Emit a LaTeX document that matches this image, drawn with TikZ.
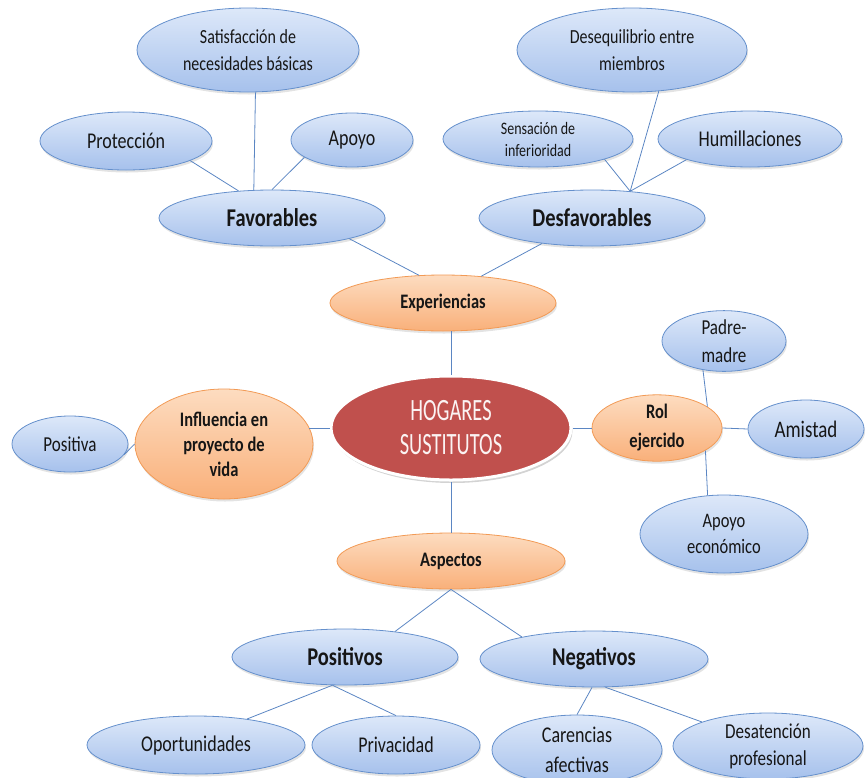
\documentclass[tikz,border=0pt]{standalone}
\usepackage{fontspec}
\setmainfont{Carlito}[FakeStretch=0.8]
\newfontfamily\hogfont{Carlito}[FakeStretch=0.66]
\usetikzlibrary{shapes.geometric,shadows}
\definecolor{bluetop}{HTML}{DDE8F9}
\definecolor{bluebot}{HTML}{A6C1EC}
\definecolor{blueline}{HTML}{6590CC}
\definecolor{orgtop}{HTML}{FDDCC0}
\definecolor{orgbot}{HTML}{F9B07A}
\definecolor{orgline}{HTML}{F29A55}
\definecolor{hogred}{HTML}{C0504D}
\definecolor{connc}{HTML}{5B86C3}
\definecolor{txt}{HTML}{161616}
\newcommand\sz[2]{\fontsize{#1}{#2}\selectfont}
\tikzset{
  esize/.style 2 args={minimum width={2*#1}, minimum height={2*#2}},
  base/.style={ellipse, inner sep=0pt, align=center, text=txt,
    drop shadow={opacity=0.22, shadow xshift=1pt, shadow yshift=-2.5pt}},
  bnode/.style={base, draw=blueline, line width=0.8pt, top color=bluetop, bottom color=bluebot},
  onode/.style={base, draw=orgline, line width=0.8pt, top color=orgtop, bottom color=orgbot},
  hnode/.style={ellipse, inner sep=0pt, align=center, text=white!93!hogred, draw=white,
    line width=3pt, fill=hogred,
    drop shadow={opacity=0.35, shadow xshift=1.5pt, shadow yshift=-3pt}},
  link/.style={draw=connc, line width=0.8pt},
}
\begin{document}
\begin{tikzpicture}[x=1pt,y=-1pt]
\useasboundingbox (0,0) rectangle (865,777);
\clip (0,0) rectangle (865,777);
% top-left branch
\node[bnode, esize={111}{42}, font=\sz{20}{27}] (sat) at (248,50) {Satisfacción de\\necesidades básicas};
\node[bnode, esize={86}{29}, font=\sz{22.5}{24}] (prot) at (126,141) {Protección};
\node[bnode, esize={61}{27}, font=\sz{22.5}{24}] (apy) at (352,140) {Apoyo};
\node[bnode, esize={113}{28}, font=\sz{25.6}{28}\bfseries] (fav) at (272,218) {Favorables};
% top-right branch
\node[bnode, esize={115}{42}, font=\sz{20}{27}] (deseq) at (632,50) {Desequilibrio entre\\miembros};
\node[bnode, esize={95}{28}, font=\sz{17.5}{22}] (sens) at (538,139) {Sensación de\\inferioridad};
\node[bnode, esize={92}{28}, font=\sz{22.5}{24}] (hum) at (750,139) {Humillaciones};
\node[bnode, esize={113}{28}, font=\sz{25.6}{28}\bfseries] (desf) at (592,218) {Desfavorables};
% orange
\node[onode, esize={113}{28}, font=\sz{20.6}{22}\bfseries] (exp) at (443,303) {Experiencias};
\node[onode, esize={65}{28}, font=\sz{20.6}{29}\bfseries] (rol) at (657,428) {Rol\\ejercido};
\node[onode, esize={89}{55}, font=\sz{20.6}{25}\bfseries] (inf) at (224,444) {Influencia en\\proyecto de\\vida};
\node[onode, esize={114}{28}, font=\sz{20.6}{22}\bfseries] (asp) at (451,561) {Aspectos};
% center
\node[hnode, esize={120}{52}, font=\hogfont\sz{31}{34}] (hog) at (451,428) {HOGARES\\SUSTITUTOS};
% right
\node[bnode, esize={62}{28}, font=\sz{21.3}{28}] (padre) at (724,341) {Padre-\\madre};
\node[bnode, esize={58}{29}, font=\sz{23.7}{25}] (ami) at (806,429) {Amistad};
\node[bnode, esize={84}{39}, font=\sz{20.6}{26}] (apeco) at (724,534) {Apoyo\\económico};
% left
\node[bnode, esize={58}{28}, font=\sz{21.3}{24}] (posa) at (70,444) {Positiva};
% bottom
\node[bnode, esize={113}{28}, font=\sz{25.6}{28}\bfseries] (posi) at (345,657) {Positivos};
\node[bnode, esize={114}{28}, font=\sz{25.6}{28}\bfseries] (neg) at (594,659) {Negativos};
\node[bnode, esize={109}{29}, font=\sz{22.5}{24}] (opp) at (196,745) {Oportunidades};
\node[bnode, esize={84}{29}, font=\sz{22.5}{24}] (priv) at (396,745) {Privacidad};
\node[bnode, esize={85}{35}, font=\sz{22.5}{30}] (car) at (577,750) {Carencias\\afectivas};
\node[bnode, esize={95}{33}, font=\sz{21.3}{27}] (desat) at (768,746) {Desatención\\profesional};
% connectors
\draw[link] (prot.-17) -- (fav.141);
\draw[link] (sat.-80) -- (fav.123);
\draw[link] (apy.200) -- (fav.north);
\draw[link] (fav.-15) -- (exp.131);
\draw[link] (sens.-17) -- (desf.35);
\draw[link] (deseq.-57) -- (desf.35);
\draw[link] (hum.198) -- (desf.35);
\draw[link] (desf.207) -- (exp.35);
\draw[link] (hog.north) -- (hog.north |- exp.south);
\draw[link] (hog.east) -- (rol.west);
\draw[link] (padre.234) -- (rol.23);
\draw[link] (rol.east) -- (ami.west);
\draw[link] (rol.-25) -- (apeco.113);
\draw[link] (hog.west) -- (hog.west -| inf.12);
\draw[link] (posa.-11) -- (inf.west);
\draw[link] (hog.south) -- (asp.north);
\draw[link] (asp.south) -- (posi.27);
\draw[link] (asp.south) -- (neg.163);
\draw[link] (posi.246) -- (opp.27);
\draw[link] (posi.246) -- (priv.north);
\draw[link] (neg.266) -- (car.north);
\draw[link] (neg.-68) -- (desat.160);
\end{tikzpicture}
\end{document}
